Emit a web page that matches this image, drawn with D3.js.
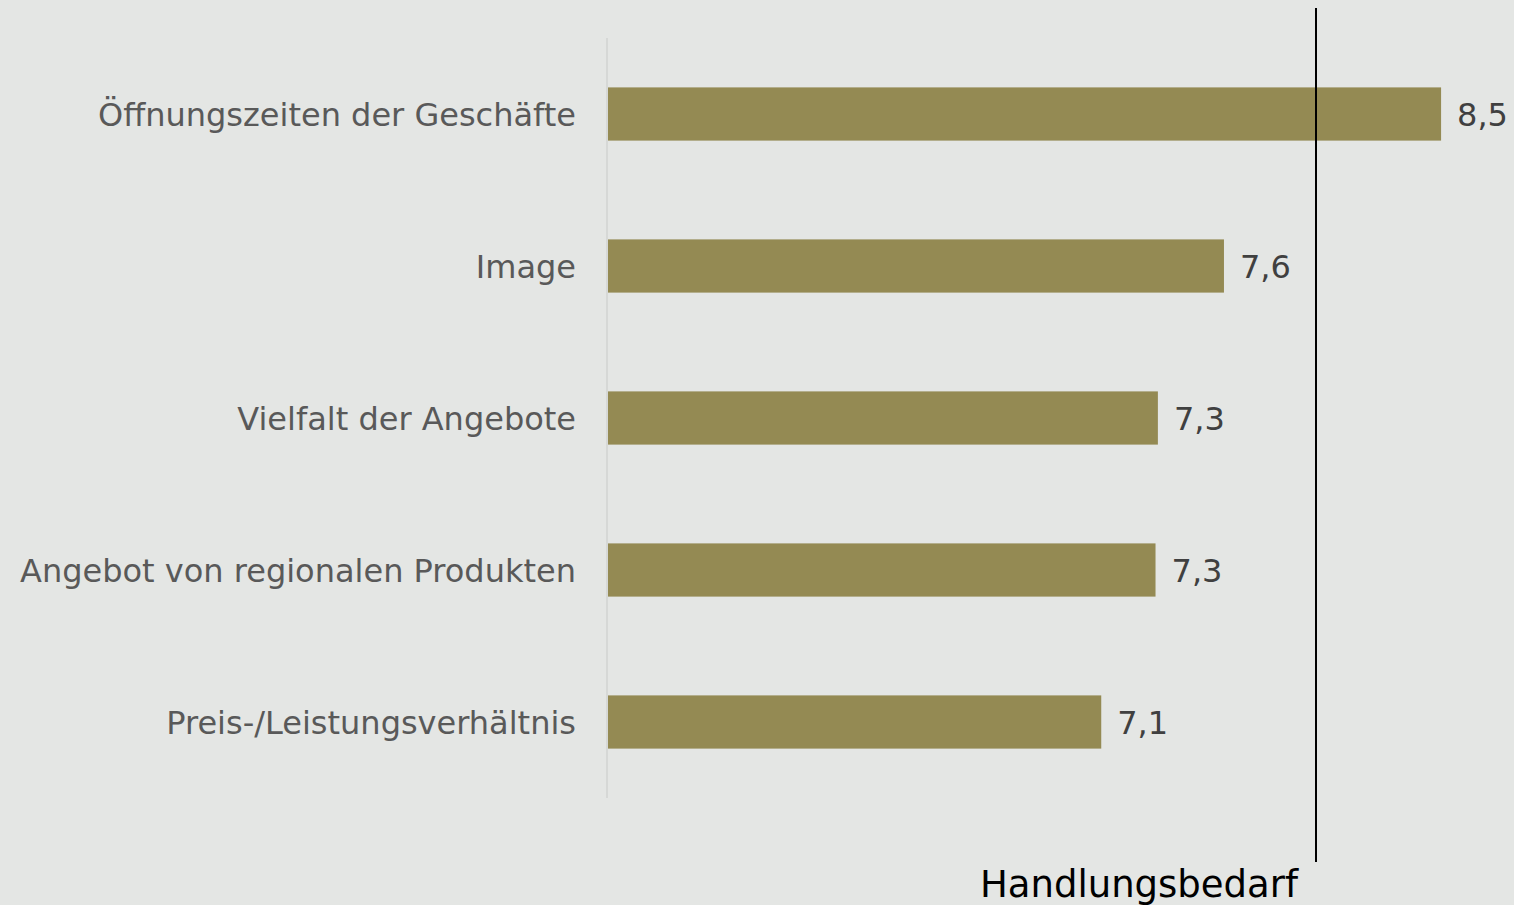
<!DOCTYPE html>
<html>
<head>
<meta charset="utf-8">
<script src="https://cdn.jsdelivr.net/npm/d3@7"></script>
<style>
  body { margin: 0; background: #e4e6e4; }
  svg { display: block; font-family: "DejaVu Sans", Verdana, sans-serif; }
</style>
</head>
<body>
<div id="chart"></div>
<script>
// chart values
const categories = [
    "Öffnungszeiten der Geschäfte",
    "Image",
    "Vielfalt der Angebote",
    "Angebot von regionalen Produkten",
    "Preis-/Leistungsverhältnis"
];
const values = [8.53, 7.61, 7.33, 7.32, 7.09];
const valueLabels = ["8,5", "7,6", "7,3", "7,3", "7,1"];
const threshold = 8.0;
const thresholdLabel = "Handlungsbedarf";

const width = 1514, height = 905;

const svg = d3.select('#chart')
    .append('svg')
    .attr('width', width)
    .attr('height', height);

svg.append('rect')
    .attr('width', width)
    .attr('height', height)
    .attr('fill', '#e4e6e4');

const x = d3.scaleLinear()
    .domain([5, 8])
    .range([608, 1316]);

const y = d3.scaleBand()
    .domain(categories)
    .range([38, 798])
    .paddingInner(0.65)
    .paddingOuter(0.325);

// left axis line (no ticks)
svg.append('line')
    .attr('x1', 607).attr('x2', 607)
    .attr('y1', y.range()[0]).attr('y2', y.range()[1])
    .attr('stroke', '#d6d8d6')
    .attr('stroke-width', 2);

// bars
svg.selectAll('rect.bar')
    .data(categories).enter()
    .append('rect')
    .attr('class', 'bar')
    .attr('x', x(5))
    .attr('y', d => y(d))
    .attr('width', (d, i) => x(values[i]) - x(5))
    .attr('height', y.bandwidth())
    .attr('fill', '#948a53');

// category labels
svg.selectAll('text.cat')
    .data(categories).enter()
    .append('text')
    .attr('class', 'cat')
    .attr('x', 576)
    .attr('y', d => y(d) + y.bandwidth() / 2)
    .attr('dy', '0.36em')
    .attr('text-anchor', 'end')
    .attr('font-size', 32)
    .attr('fill', '#595959')
    .text(d => d);

// value labels
svg.selectAll('text.val')
    .data(categories).enter()
    .append('text')
    .attr('class', 'val')
    .attr('x', (d, i) => x(values[i]) + 16)
    .attr('y', d => y(d) + y.bandwidth() / 2)
    .attr('dy', '0.38em')
    .attr('font-size', 32)
    .attr('fill', '#404040')
    .text((d, i) => valueLabels[i]);

// threshold line
svg.append('line')
    .attr('x1', x(threshold)).attr('x2', x(threshold))
    .attr('y1', 8).attr('y2', 862)
    .attr('stroke', '#000')
    .attr('stroke-width', 2);

svg.append('text')
    .attr('x', x(threshold) - 18)
    .attr('y', 897)
    .attr('text-anchor', 'end')
    .attr('font-size', 37)
    .attr('fill', '#000')
    .text(thresholdLabel);
</script>
</body>
</html>
